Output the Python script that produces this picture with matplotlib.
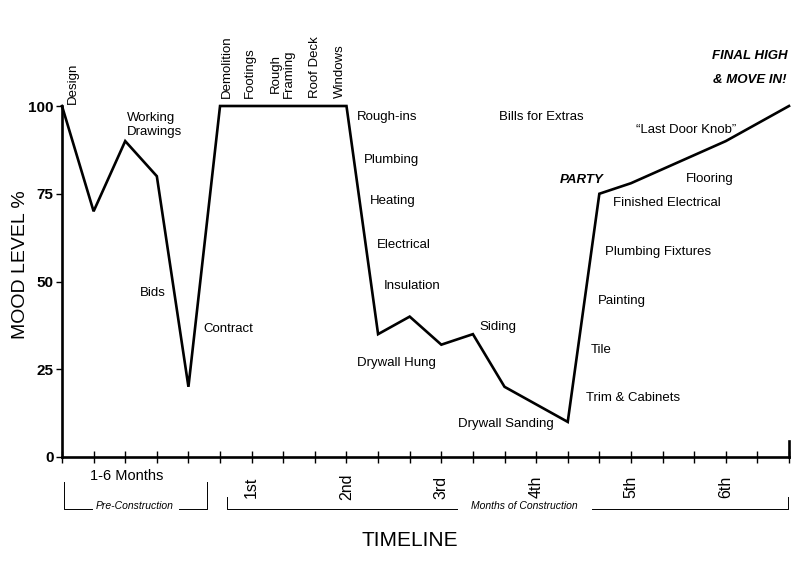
import matplotlib
matplotlib.use("Agg")
import matplotlib.pyplot as plt

plt.rcParams['font.family'] = ['Liberation Sans', 'DejaVu Sans']

# Data: timeline position (tick units) and mood level %
timeline_x = [0, 1, 2, 3, 4, 5, 9, 10, 11, 12, 13, 14, 16, 17, 18, 21, 23]
mood = [100, 70, 90, 80, 20, 100, 100, 35, 40, 32, 35, 20, 10, 75, 78, 90, 100]

y_ticks = [0, 25, 50, 75, 100]
month_ticks = [6, 9, 12, 15, 18, 21]
month_labels = ["1st", "2nd", "3rd", "4th", "5th", "6th"]

W, H = 800, 564
fig = plt.figure(figsize=(8, 5.64), dpi=100)
x0, x1, ytop, ybot = 62, 789, 106, 457
ax = fig.add_axes([x0 / W, (H - ybot) / H, (x1 - x0) / W, (ybot - ytop) / H])
ax.set_xlim(0, 23)
ax.set_ylim(0, 100)

def px(x, y):
    return (x - x0) / ((x1 - x0) / 23), (ybot - y) / ((ybot - ytop) / 100)

ax.plot(timeline_x, mood, color='black', lw=1.9, clip_on=False, solid_joinstyle='miter')

for s in ['top', 'right']:
    ax.spines[s].set_visible(False)
for s in ['left', 'bottom']:
    ax.spines[s].set_linewidth(1.9)

ax.set_yticks(y_ticks)
ax.set_yticklabels([str(v) for v in y_ticks], fontsize=11, fontweight='bold')
ax.tick_params(axis='y', length=4, width=1, pad=2)
ax.set_xticks(range(0, 24))
ax.set_xticklabels([])
ax.tick_params(axis='x', direction='inout', length=8, width=1)

# right end marker
ax.plot([23, 23], [0, 4.5], color='black', lw=1.9, clip_on=False)

fig.text(21 / W, 1 - 265 / H, "MOOD LEVEL %", fontsize=14, rotation=90, ha='center', va='center')
fig.text(410 / W, 1 - 541 / H, "TIMELINE", fontsize=15, ha='center', va='center')

# annotations (left-aligned, pixel-based positions)
fs = 9.5
labels = [
    ("Working\nDrawings", 127, 125),
    ("Bids", 140, 293),
    ("Contract", 203, 329),
    ("Rough-ins", 357, 117),
    ("Plumbing", 364, 160),
    ("Heating", 370, 201),
    ("Electrical", 377, 245),
    ("Insulation", 384, 286),
    ("Drywall Hung", 357, 363),
    ("Siding", 479, 327),
    ("Drywall Sanding", 458, 424),
    ("Bills for Extras", 499, 117),
    ("Finished Electrical", 613, 203),
    ("Plumbing Fixtures", 605, 252),
    ("Painting", 598, 301),
    ("Tile", 591, 350),
    ("Trim & Cabinets", 586, 398),
    ("Flooring", 686, 179),
    ("\u201cLast Door Knob\u201d", 636, 130),
]
for t, x, y in labels:
    dx, dy = px(x, y)
    ax.text(dx, dy, t, fontsize=fs, ha='left', va='center', linespacing=1.2, clip_on=False)

for t, x, y in [("PARTY", 560, 180), ("FINAL HIGH", 712, 56), ("& MOVE IN!", 713, 80)]:
    dx, dy = px(x, y)
    ax.text(dx, dy, t, fontsize=9.5, fontweight='bold', fontstyle='italic',
            ha='left', va='center', clip_on=False)

# rotated top labels
for t, x, ybottom in [("Design", 73, 104), ("Demolition", 227, 98), ("Footings", 250, 98),
                      ("Rough\nFraming", 282, 98), ("Roof Deck", 315, 98), ("Windows", 340, 98)]:
    dx, dy = px(x, ybottom)
    ax.text(dx, dy, t, fontsize=fs, rotation=90, ha='center', va='bottom',
            linespacing=1.1, clip_on=False)

# month labels
for m, lab in zip(month_ticks, month_labels):
    dx, dy = px(0, 487)
    ax.text(m, dy, lab, fontsize=11.5, rotation=90, ha='center', va='center', clip_on=False)

dx, dy = px(127, 476)
ax.text(dx, dy, "1-6 Months", fontsize=10.5, ha='center', va='center', clip_on=False)

# brackets
def line(xs, ys):
    pts = [px(x, y) for x, y in zip(xs, ys)]
    ax.plot([p[0] for p in pts], [p[1] for p in pts], color='black', lw=0.7, clip_on=False)

line([64, 64, 92], [482, 509, 509])
line([179, 207, 207], [509, 509, 482])
line([227, 227, 457], [497, 509, 509])
line([592, 788, 788], [509, 509, 497])
dx, dy = px(135, 506)
ax.text(dx, dy, "Pre-Construction", fontsize=7.5, fontstyle='italic', ha='center', va='center', clip_on=False)
dx, dy = px(524, 506)
ax.text(dx, dy, "Months of Construction", fontsize=7.5, fontstyle='italic', ha='center', va='center', clip_on=False)

fig.savefig("out.png", dpi=100, facecolor='white')
